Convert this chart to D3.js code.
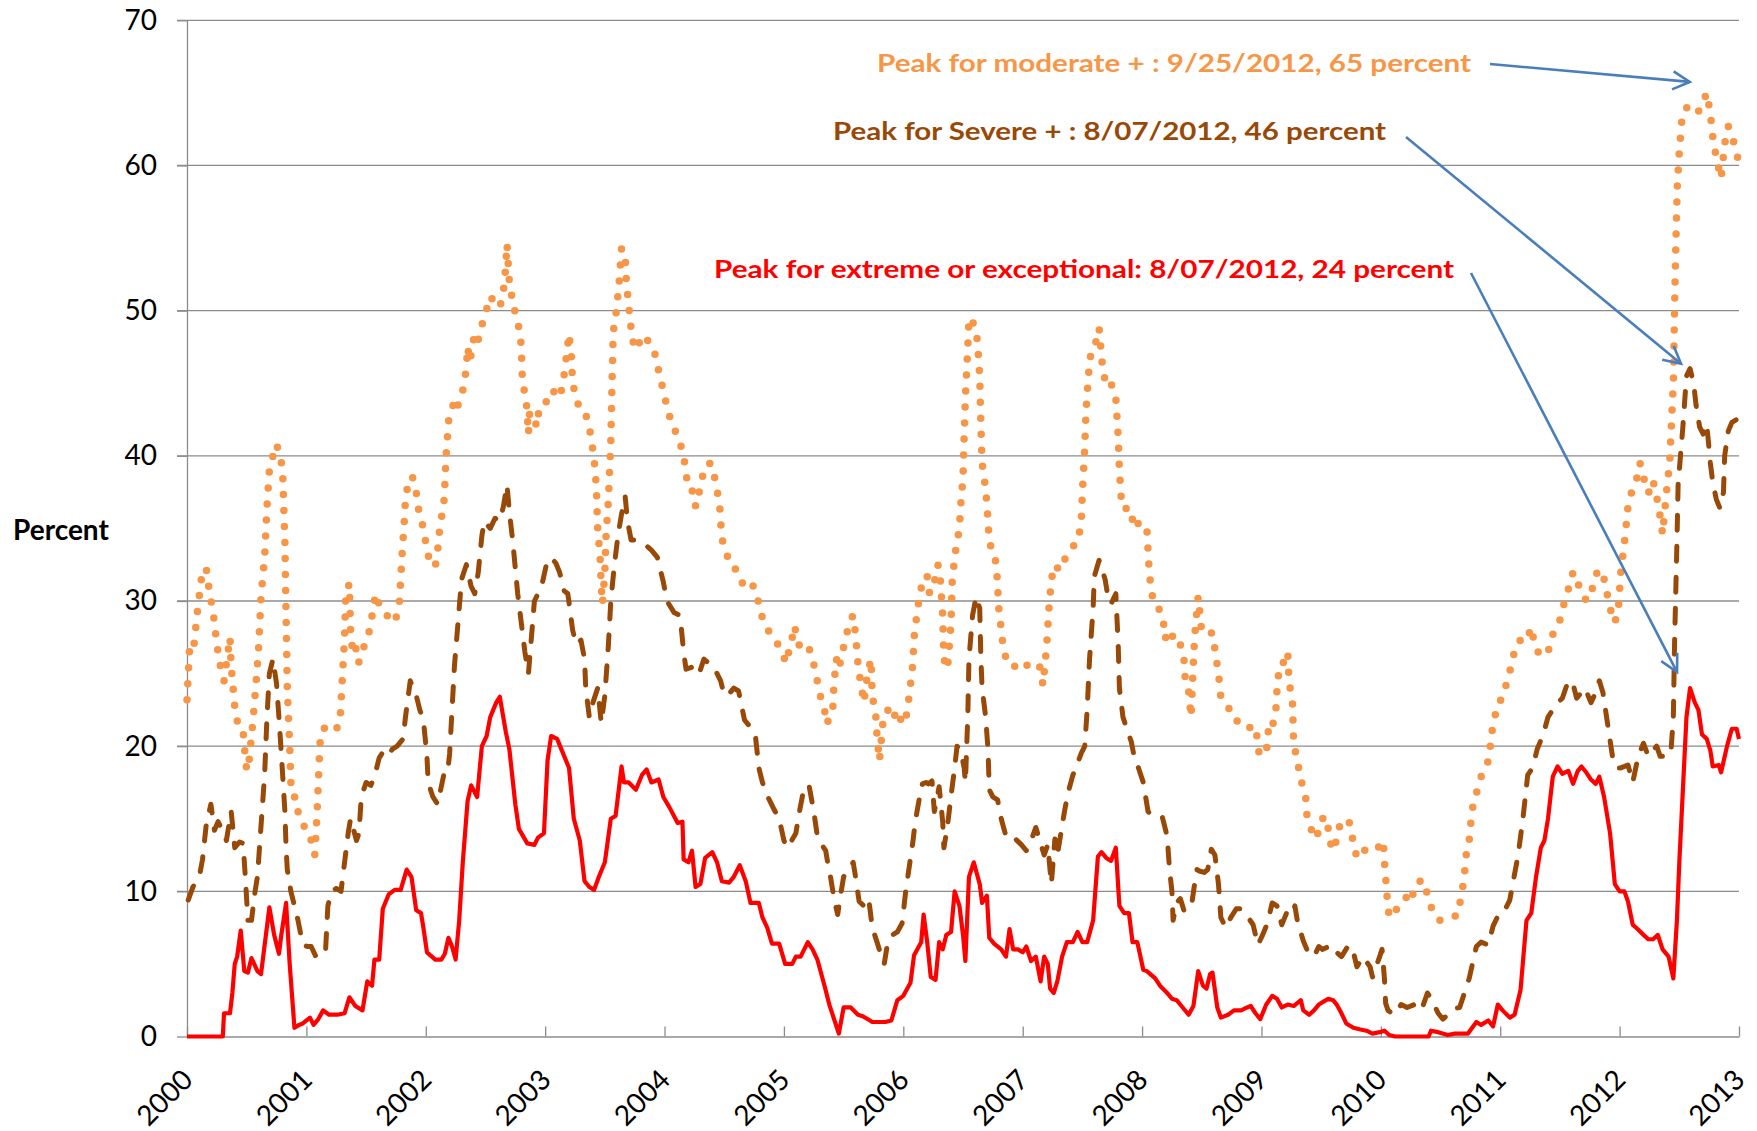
<!DOCTYPE html>
<html>

<head>
    <meta charset='utf-8' />
    <title>Drought area percent 2000-2012</title>
    <script src="https://cdn.jsdelivr.net/npm/d3@7"></script>
    <style>
        body {
            margin: 0;
            padding: 0;
            background: #fff;
        }

        #chart {
            display: block;
            font-family: Lato, 'Open Sans', sans-serif;
        }

        .grid-line {
            stroke: #8c8c8c;
            stroke-width: 1.3;
        }

        .axis path,
        .axis line {
            stroke: #8c8c8c;
            stroke-width: 1.3;
        }

        .axis text {
            fill: #000;
            font-family: Lato, 'Open Sans', sans-serif;
            font-size: 28px;
        }

        .moderate-style {
            fill: none;
            stroke: #f79646;
            stroke-width: 7.5;
            stroke-linecap: round;
            stroke-linejoin: round;
            stroke-dasharray: 0 16;
        }

        .severe-style {
            fill: none;
            stroke: #984807;
            stroke-width: 5;
            stroke-linecap: round;
            stroke-linejoin: round;
            stroke-dasharray: 15 16;
        }

        .extreme-style {
            fill: none;
            stroke: #ff0000;
            stroke-width: 4.2;
            stroke-linejoin: round;
        }

        .note {
            font-family: Lato, 'Open Sans', sans-serif;
            font-size: 25px;
            font-weight: bold;
        }

        .arrow {
            stroke: #4a7ebb;
            stroke-width: 2.6;
            fill: none;
        }
    </style>
</head>

<body>
    <svg id="chart" width="1757" height="1131"></svg>
    <script>
        // values: [year, percent of area]
        var yearTicks = [2000, 2001, 2002, 2003, 2004, 2005, 2006, 2007, 2008, 2009, 2010, 2011, 2012, 2013];
        var percentTicks = [0, 10, 20, 30, 40, 50, 60, 70];

        var moderate = [
            [2000.00, 23.2], [2000.02, 26.5], [2000.05, 26.3], [2000.09, 29.5], [2000.12, 31.5], [2000.16, 32.3],
            [2000.19, 30.5], [2000.22, 29.2], [2000.25, 27], [2000.29, 25], [2000.31, 24.5], [2000.36, 27.5],
            [2000.37, 25.5], [2000.40, 22.7], [2000.43, 21.3], [2000.47, 21], [2000.48, 20], [2000.50, 18.3],
            [2000.52, 19], [2000.55, 21.5], [2000.58, 24.5], [2000.60, 26.8], [2000.62, 30.3], [2000.65, 33],
            [2000.67, 36.5], [2000.69, 39], [2000.72, 40], [2000.75, 40.8], [2000.77, 40.2], [2000.80, 39.2],
            [2000.82, 34], [2000.83, 29], [2000.84, 24], [2000.86, 20], [2000.87, 17.5], [2000.89, 16.5],
            [2000.91, 16.5], [2000.94, 15], [2000.98, 14.5], [2001.03, 14], [2001.05, 13], [2001.07, 12.5],
            [2001.09, 15.5], [2001.11, 19.5], [2001.12, 21], [2001.16, 21.3], [2001.19, 21.2], [2001.23, 21],
            [2001.28, 21.5], [2001.30, 24.5], [2001.32, 27.5], [2001.33, 30.5], [2001.36, 31.2], [2001.37, 28],
            [2001.39, 26.3], [2001.42, 26.8], [2001.44, 25.8], [2001.48, 26.8], [2001.53, 28], [2001.55, 29],
            [2001.58, 30.5], [2001.62, 29.5], [2001.67, 29.1], [2001.71, 28.5], [2001.75, 28.8], [2001.78, 30],
            [2001.80, 33], [2001.82, 35.5], [2001.83, 37], [2001.86, 38.5], [2001.89, 38.5], [2001.92, 37.5],
            [2001.94, 36.3], [2001.98, 35], [2002.01, 33.5], [2002.04, 32.5], [2002.08, 32.4], [2002.10, 33.5],
            [2002.12, 35.3], [2002.15, 36.5], [2002.16, 38], [2002.17, 40], [2002.19, 42.3], [2002.20, 43],
            [2002.23, 43.5], [2002.26, 43], [2002.28, 44], [2002.31, 44.5], [2002.34, 46], [2002.35, 47.5],
            [2002.37, 46.5], [2002.40, 48], [2002.43, 47.5], [2002.45, 48.5], [2002.49, 49.5], [2002.54, 51],
            [2002.58, 50.5], [2002.62, 50.2], [2002.65, 51.3], [2002.67, 53], [2002.68, 54.6], [2002.70, 52],
            [2002.73, 50.5], [2002.76, 49.5], [2002.79, 48.5], [2002.80, 47.5], [2002.81, 45], [2002.84, 44],
            [2002.86, 41.5], [2002.87, 43], [2002.90, 42.8], [2002.93, 42], [2002.95, 43.3], [2003.00, 43.5],
            [2003.04, 44.5], [2003.08, 44.4], [2003.12, 44], [2003.15, 45], [2003.18, 47], [2003.20, 48.4],
            [2003.22, 46.8], [2003.23, 45], [2003.26, 44], [2003.29, 43.2], [2003.33, 43], [2003.36, 42.4],
            [2003.39, 41], [2003.42, 39], [2003.43, 37.5], [2003.44, 35], [2003.46, 33], [2003.47, 31],
            [2003.48, 29.8], [2003.50, 32], [2003.51, 34.5], [2003.53, 37], [2003.55, 41], [2003.56, 45],
            [2003.57, 48.5], [2003.60, 50.2], [2003.62, 52], [2003.64, 54.3], [2003.67, 53.8], [2003.68, 52],
            [2003.71, 49.5], [2003.73, 48], [2003.76, 47.3], [2003.80, 48], [2003.85, 48.3], [2003.87, 47.5],
            [2003.92, 47], [2003.96, 45.5], [2003.99, 44.5], [2004.02, 43.4], [2004.06, 42.2], [2004.12, 41.2],
            [2004.16, 40], [2004.18, 38.8], [2004.20, 37.7], [2004.25, 37.5], [2004.26, 36.5], [2004.29, 37.5],
            [2004.33, 39], [2004.37, 39.5], [2004.40, 39.4], [2004.43, 38], [2004.46, 36.8], [2004.47, 35.5],
            [2004.48, 34.3], [2004.53, 33], [2004.57, 32.8], [2004.62, 31.5], [2004.68, 31], [2004.72, 31.3],
            [2004.76, 30.8], [2004.79, 29.8], [2004.83, 28.5], [2004.89, 27.7], [2004.95, 27], [2004.99, 26.3],
            [2005.02, 25.7], [2005.04, 26.5], [2005.07, 27.5], [2005.09, 28.3], [2005.11, 27.2], [2005.14, 26.8],
            [2005.20, 27], [2005.24, 26], [2005.27, 24.9], [2005.30, 23.6], [2005.34, 22.5], [2005.36, 21.5],
            [2005.41, 22.7], [2005.42, 24.4], [2005.44, 26], [2005.46, 25.3], [2005.49, 26.5], [2005.52, 27.5],
            [2005.55, 28.6], [2005.58, 29], [2005.60, 27.7], [2005.62, 25.7], [2005.64, 24.5], [2005.67, 23],
            [2005.70, 25], [2005.73, 26], [2005.74, 23.5], [2005.77, 22], [2005.78, 20.7], [2005.80, 19],
            [2005.83, 21.7], [2005.87, 22.5], [2005.91, 21.8], [2005.95, 22.5], [2005.98, 21.8], [2006.01, 21.5],
            [2006.03, 22.3], [2006.05, 23.5], [2006.08, 25.7], [2006.09, 27.5], [2006.12, 29.5], [2006.14, 30.5],
            [2006.17, 31.7], [2006.20, 31.7], [2006.22, 30.5], [2006.26, 31.3], [2006.29, 32.5], [2006.31, 31.5],
            [2006.33, 29], [2006.34, 26], [2006.37, 25.3], [2006.40, 28.5], [2006.41, 31.5], [2006.44, 33.6],
            [2006.47, 35], [2006.48, 36.5], [2006.50, 38.5], [2006.51, 41.5], [2006.52, 44], [2006.54, 47.5],
            [2006.55, 49.5], [2006.58, 49.3], [2006.62, 48], [2006.64, 45.5], [2006.65, 42], [2006.66, 39.5],
            [2006.69, 37.7], [2006.71, 35.5], [2006.72, 34], [2006.75, 33.5], [2006.78, 32.5], [2006.80, 29.5],
            [2006.83, 27.3], [2006.86, 26], [2006.90, 26], [2006.94, 25.4], [2006.99, 25.2], [2007.04, 25.6],
            [2007.10, 25.4], [2007.14, 25.6], [2007.17, 24.2], [2007.20, 26.8], [2007.22, 29.5], [2007.24, 31.5],
            [2007.27, 32.5], [2007.31, 32.1], [2007.36, 33], [2007.41, 33.7], [2007.46, 34], [2007.49, 35.4],
            [2007.50, 37.5], [2007.52, 40.6], [2007.53, 43], [2007.55, 45.5], [2007.57, 47], [2007.60, 47.4],
            [2007.64, 48.8], [2007.67, 46], [2007.70, 44.8], [2007.74, 45], [2007.78, 44], [2007.80, 41.3],
            [2007.81, 39], [2007.83, 36.5], [2007.86, 36.5], [2007.91, 35.5], [2007.94, 36], [2007.98, 35],
            [2008.04, 35], [2008.06, 32], [2008.08, 30.5], [2008.12, 29.5], [2008.15, 29.4], [2008.18, 28.5],
            [2008.19, 27.4], [2008.25, 28], [2008.26, 27], [2008.32, 27], [2008.35, 26.1], [2008.36, 24.8],
            [2008.39, 23.8], [2008.40, 22.9], [2008.41, 22], [2008.43, 25.8], [2008.44, 27.5], [2008.46, 29.4],
            [2008.47, 30.3], [2008.50, 27.8], [2008.55, 27.8], [2008.59, 27.8], [2008.62, 26.1], [2008.64, 25],
            [2008.65, 24.2], [2008.66, 23.3], [2008.69, 23], [2008.72, 22.7], [2008.75, 22.3], [2008.77, 21.8],
            [2008.81, 21.7], [2008.87, 21.2], [2008.91, 21.3], [2008.95, 21.4], [2008.98, 19.5], [2009.01, 19.3],
            [2009.05, 20], [2009.06, 21.5], [2009.09, 21.3], [2009.12, 22.4], [2009.13, 23.9], [2009.15, 25.5],
            [2009.17, 25.5], [2009.22, 26.5], [2009.23, 24.6], [2009.24, 24], [2009.26, 22.9], [2009.27, 20.2],
            [2009.30, 19], [2009.33, 17.7], [2009.37, 16.5], [2009.38, 15.3], [2009.41, 14.4], [2009.45, 13.6],
            [2009.49, 14.3], [2009.52, 15.2], [2009.56, 14.3], [2009.59, 12.8], [2009.63, 13.5], [2009.66, 14.7],
            [2009.70, 15], [2009.74, 14.7], [2009.77, 13.3], [2009.80, 12.3], [2009.84, 12.8], [2009.91, 12.9],
            [2009.96, 12.8], [2010.02, 13.5], [2010.03, 12], [2010.04, 11], [2010.05, 9.8], [2010.07, 8.2],
            [2010.11, 8.5], [2010.15, 9], [2010.21, 9.6], [2010.25, 9.2], [2010.29, 10.5], [2010.35, 10.8],
            [2010.39, 9.8], [2010.43, 8.7], [2010.49, 8], [2010.55, 8.2], [2010.59, 8.3], [2010.64, 8.3],
            [2010.67, 9.5], [2010.70, 11], [2010.71, 12.3], [2010.74, 13.5], [2010.76, 15.3], [2010.78, 16.3],
            [2010.81, 17], [2010.84, 17.9], [2010.87, 18.3], [2010.90, 19], [2010.92, 20.2], [2010.94, 21.6],
            [2010.97, 22.5], [2010.98, 23], [2011.01, 23.2], [2011.06, 24.5], [2011.10, 25.8], [2011.13, 27],
            [2011.17, 27.3], [2011.22, 27.2], [2011.26, 28.2], [2011.29, 26.9], [2011.33, 26.3], [2011.37, 26.2],
            [2011.41, 26.7], [2011.45, 28], [2011.50, 28.7], [2011.54, 30], [2011.57, 30.8], [2011.61, 32],
            [2011.64, 31.6], [2011.66, 31], [2011.69, 30.6], [2011.72, 30], [2011.76, 30.5], [2011.80, 31.8],
            [2011.83, 32.2], [2011.87, 31.5], [2011.92, 29.5], [2011.96, 28.5], [2011.99, 29.5], [2012.01, 32],
            [2012.04, 34], [2012.07, 36.5], [2012.10, 37.5], [2012.14, 38.3], [2012.17, 39.5], [2012.20, 38.7],
            [2012.22, 37.5], [2012.25, 37.5], [2012.28, 38.3], [2012.31, 37.2], [2012.34, 35.8], [2012.36, 34.6],
            [2012.39, 37.3], [2012.42, 39.6], [2012.43, 41.5], [2012.45, 45], [2012.455, 47.5], [2012.46, 50],
            [2012.467, 53], [2012.475, 56], [2012.483, 58.5], [2012.50, 61], [2012.52, 63], [2012.56, 64],
            [2012.62, 63.5], [2012.67, 63.8], [2012.73, 65], [2012.76, 63.6], [2012.78, 62], [2012.81, 60.5],
            [2012.85, 59.1], [2012.88, 61.5], [2012.91, 62.7], [2012.95, 61.8], [2012.99, 60.5]
        ];

        var severe = [
            [2000.01, 9.4], [2000.05, 10.3], [2000.11, 11.3], [2000.13, 12.2], [2000.16, 14.5], [2000.20, 16],
            [2000.23, 14.2], [2000.26, 14.8], [2000.29, 14.3], [2000.33, 13.5], [2000.37, 15.5], [2000.40, 13],
            [2000.44, 13.4], [2000.47, 13.3], [2000.49, 10.8], [2000.51, 8], [2000.54, 8], [2000.57, 10],
            [2000.59, 11], [2000.62, 14.5], [2000.65, 18], [2000.67, 22], [2000.69, 25], [2000.72, 26],
            [2000.75, 24.3], [2000.77, 22], [2000.79, 19.5], [2000.82, 15.5], [2000.83, 13], [2000.84, 11.5],
            [2000.87, 10], [2000.90, 9], [2000.93, 8], [2000.97, 6.3], [2001.01, 6.2], [2001.04, 6.2],
            [2001.08, 5.5], [2001.11, 5.5], [2001.16, 5.8], [2001.18, 9], [2001.21, 10], [2001.25, 10.2],
            [2001.29, 10], [2001.32, 12], [2001.35, 14], [2001.37, 15], [2001.42, 13.5], [2001.44, 14],
            [2001.46, 16.5], [2001.50, 17.5], [2001.54, 17.3], [2001.57, 17.9], [2001.61, 19.2], [2001.65, 19.7],
            [2001.69, 19.4], [2001.72, 19.8], [2001.76, 20], [2001.81, 20.5], [2001.83, 22], [2001.87, 24.5],
            [2001.92, 23.5], [2001.95, 22.5], [2001.98, 21.8], [2002.01, 19.3], [2002.02, 17.5], [2002.06, 16.5],
            [2002.10, 16], [2002.15, 18], [2002.18, 18], [2002.20, 19.5], [2002.21, 21], [2002.24, 25.5],
            [2002.27, 28.5], [2002.30, 31.5], [2002.34, 32.5], [2002.38, 31], [2002.41, 30.5], [2002.44, 32],
            [2002.47, 34.5], [2002.49, 35.5], [2002.54, 35], [2002.58, 35.7], [2002.62, 35.5], [2002.65, 36.5],
            [2002.68, 38], [2002.70, 36.2], [2002.73, 34], [2002.77, 30.5], [2002.80, 28.5], [2002.83, 26.5],
            [2002.86, 25], [2002.88, 27], [2002.91, 30], [2002.94, 30.5], [2002.97, 31], [2003.01, 32.5],
            [2003.05, 33], [2003.09, 32.6], [2003.12, 32], [2003.16, 30.7], [2003.19, 30.5], [2003.23, 28],
            [2003.26, 27], [2003.30, 27.3], [2003.33, 26], [2003.34, 24], [2003.37, 22], [2003.40, 23],
            [2003.44, 24], [2003.47, 21.6], [2003.50, 23.5], [2003.53, 27], [2003.55, 30], [2003.58, 32.5],
            [2003.61, 34.5], [2003.64, 36], [2003.67, 37.2], [2003.69, 35.5], [2003.72, 34.2], [2003.76, 34.2],
            [2003.80, 34], [2003.85, 33.8], [2003.89, 33.5], [2003.94, 33], [2003.99, 31.3], [2004.02, 30],
            [2004.08, 29.2], [2004.13, 29], [2004.16, 26.5], [2004.18, 25.3], [2004.25, 25.5], [2004.29, 25],
            [2004.33, 26], [2004.37, 25.7], [2004.41, 25.5], [2004.47, 24.5], [2004.50, 23.5], [2004.54, 23.6],
            [2004.58, 24], [2004.62, 23.8], [2004.67, 21.8], [2004.72, 21.3], [2004.76, 20.8], [2004.79, 18.5],
            [2004.82, 17.5], [2004.86, 16.6], [2004.92, 15.6], [2004.96, 15], [2005.00, 13.5], [2005.03, 13],
            [2005.10, 14], [2005.13, 15.5], [2005.17, 17.2], [2005.21, 17.3], [2005.25, 15.5], [2005.28, 13.8],
            [2005.31, 13.3], [2005.35, 12.8], [2005.37, 11.8], [2005.39, 11], [2005.42, 9.5], [2005.45, 8.4],
            [2005.48, 10], [2005.50, 11], [2005.55, 11.5], [2005.58, 12], [2005.60, 11], [2005.63, 9.3],
            [2005.67, 9], [2005.71, 9.5], [2005.74, 7.5], [2005.78, 6.5], [2005.81, 5.7], [2005.84, 5],
            [2005.87, 6.5], [2005.91, 7], [2005.95, 7.2], [2005.99, 7.8], [2006.02, 10], [2006.05, 11.7],
            [2006.08, 13.4], [2006.10, 14.8], [2006.13, 16.2], [2006.16, 17.4], [2006.19, 17.5], [2006.21, 17.4],
            [2006.24, 17.6], [2006.26, 15.5], [2006.30, 17.2], [2006.33, 14.8], [2006.34, 13], [2006.37, 14.5],
            [2006.40, 16.6], [2006.43, 18.5], [2006.45, 20], [2006.48, 19.7], [2006.51, 18.5], [2006.52, 17.5],
            [2006.54, 22], [2006.55, 26], [2006.58, 29], [2006.61, 30.3], [2006.64, 29.5], [2006.65, 26],
            [2006.66, 24], [2006.69, 22], [2006.71, 19.7], [2006.72, 17], [2006.75, 16.5], [2006.79, 16.3],
            [2006.82, 15], [2006.86, 13.8], [2006.90, 13.5], [2006.94, 13.6], [2006.99, 13.2], [2007.03, 12.8],
            [2007.07, 13.5], [2007.11, 14.4], [2007.15, 13.3], [2007.18, 12.5], [2007.21, 13.2], [2007.24, 10.5],
            [2007.27, 13.6], [2007.29, 12.5], [2007.32, 14], [2007.35, 15.5], [2007.38, 16.8], [2007.42, 18],
            [2007.45, 18.6], [2007.49, 19.5], [2007.52, 20], [2007.54, 22.5], [2007.56, 26], [2007.59, 29.5],
            [2007.60, 31.7], [2007.64, 32.8], [2007.69, 31.5], [2007.71, 30.5], [2007.74, 29.8], [2007.78, 30.5],
            [2007.80, 27], [2007.81, 24], [2007.84, 22], [2007.88, 21], [2007.91, 20.3], [2007.94, 19],
            [2007.97, 18.5], [2008.01, 17.5], [2008.05, 15.5], [2008.10, 15.1], [2008.17, 15.1], [2008.21, 13.8],
            [2008.23, 11.5], [2008.25, 10], [2008.26, 8], [2008.29, 9.2], [2008.32, 9.5], [2008.35, 8.7],
            [2008.41, 8.8], [2008.44, 10.5], [2008.46, 11.5], [2008.48, 11.4], [2008.52, 11.3], [2008.55, 11.5],
            [2008.58, 12.9], [2008.61, 12.5], [2008.64, 10.5], [2008.66, 8.2], [2008.70, 7.5], [2008.75, 8.3],
            [2008.79, 8.8], [2008.83, 8.8], [2008.88, 8.3], [2008.93, 7.7], [2008.97, 6.3], [2009.01, 7],
            [2009.05, 7.8], [2009.09, 9.2], [2009.13, 9], [2009.17, 7.7], [2009.22, 8.7], [2009.26, 8.5],
            [2009.28, 9], [2009.30, 8], [2009.35, 6.6], [2009.38, 6], [2009.44, 5.5], [2009.48, 6.2],
            [2009.51, 6], [2009.59, 6.3], [2009.63, 5.8], [2009.67, 5.5], [2009.73, 6.3], [2009.77, 5.8],
            [2009.80, 4.8], [2009.85, 5.5], [2009.91, 4.8], [2009.93, 4.1], [2009.99, 5.5], [2010.01, 6],
            [2010.03, 4], [2010.04, 2.3], [2010.06, 1.8], [2010.11, 1.5], [2010.17, 2.2], [2010.22, 2],
            [2010.28, 2.2], [2010.34, 1.8], [2010.39, 3], [2010.43, 2.5], [2010.48, 1.6], [2010.52, 1.2],
            [2010.56, 1.5], [2010.60, 1.9], [2010.66, 2], [2010.70, 3], [2010.74, 4], [2010.80, 6.2],
            [2010.84, 6.5], [2010.90, 6.3], [2010.94, 7.6], [2010.98, 8.3], [2011.02, 8.4], [2011.08, 9.4],
            [2011.10, 10.3], [2011.15, 12.5], [2011.19, 15], [2011.23, 18], [2011.27, 18.5], [2011.31, 19.8],
            [2011.36, 20.8], [2011.40, 22], [2011.44, 22.5], [2011.48, 23], [2011.52, 23.3], [2011.57, 24.5],
            [2011.61, 24.3], [2011.64, 23.3], [2011.66, 23.5], [2011.71, 24], [2011.76, 23], [2011.80, 23.7],
            [2011.83, 24.5], [2011.86, 23.7], [2011.90, 21.5], [2011.94, 19.3], [2011.97, 18.5], [2012.01, 18.5],
            [2012.07, 18.7], [2012.11, 17.5], [2012.14, 18.7], [2012.17, 19.6], [2012.20, 20.2], [2012.24, 19.3],
            [2012.27, 19.6], [2012.31, 20], [2012.34, 19.3], [2012.38, 19.3], [2012.41, 19.3], [2012.43, 19.6],
            [2012.45, 22], [2012.46, 27], [2012.48, 34], [2012.49, 38], [2012.52, 41], [2012.53, 42],
            [2012.56, 45.5], [2012.59, 46], [2012.62, 45], [2012.64, 43.5], [2012.67, 42], [2012.70, 41.5],
            [2012.73, 42.2], [2012.76, 39.5], [2012.78, 38.2], [2012.81, 37], [2012.84, 36.4], [2012.87, 37.5],
            [2012.88, 40], [2012.91, 41.7], [2012.94, 42.3], [2012.98, 42.5], [2013.00, 42]
        ];

        var extreme = [
            [2000.00, 0], [2000.30, 0], [2000.31, 1.6], [2000.36, 1.6], [2000.38, 3], [2000.40, 5],
            [2000.42, 5.5], [2000.45, 7.3], [2000.48, 4.5], [2000.51, 4.4], [2000.54, 5.4], [2000.59, 4.5],
            [2000.62, 4.3], [2000.69, 8.9], [2000.73, 7], [2000.77, 5.7], [2000.79, 7], [2000.83, 9.2],
            [2000.86, 5], [2000.90, 0.6], [2000.94, 0.8], [2000.97, 0.9], [2001.03, 1.3], [2001.06, 0.8],
            [2001.10, 1.2], [2001.14, 1.8], [2001.19, 1.5], [2001.26, 1.5], [2001.32, 1.6], [2001.36, 2.7],
            [2001.41, 2.1], [2001.47, 1.8], [2001.51, 3.8], [2001.55, 3.5], [2001.57, 5.3], [2001.61, 5.3],
            [2001.64, 8.8], [2001.69, 9.8], [2001.74, 10.1], [2001.79, 10.1], [2001.84, 11.5], [2001.88, 11],
            [2001.92, 8.7], [2001.96, 8.5], [2001.98, 7.5], [2002.01, 5.8], [2002.08, 5.3], [2002.13, 5.3],
            [2002.16, 5.7], [2002.19, 6.8], [2002.22, 6.2], [2002.25, 5.3], [2002.28, 8], [2002.31, 12],
            [2002.35, 16.2], [2002.38, 17.3], [2002.43, 16.5], [2002.47, 20], [2002.51, 20.7], [2002.54, 22],
            [2002.59, 23], [2002.62, 23.4], [2002.67, 21], [2002.70, 19.8], [2002.75, 16], [2002.78, 14.3],
            [2002.85, 13.3], [2002.91, 13.2], [2002.94, 13.7], [2002.99, 14], [2003.02, 19], [2003.05, 20.7],
            [2003.10, 20.5], [2003.15, 19.5], [2003.20, 18.5], [2003.24, 15], [2003.29, 13.5], [2003.33, 10.7],
            [2003.37, 10.3], [2003.41, 10.1], [2003.45, 11], [2003.50, 12], [2003.55, 15], [2003.59, 15.2],
            [2003.64, 18.6], [2003.66, 17.5], [2003.70, 17.5], [2003.76, 17], [2003.81, 18], [2003.85, 18.4],
            [2003.89, 17.5], [2003.95, 17.7], [2003.99, 16.5], [2004.04, 15.8], [2004.11, 14.7], [2004.15, 14.8],
            [2004.16, 12.2], [2004.20, 12], [2004.23, 12.8], [2004.26, 10.3], [2004.30, 10.5], [2004.34, 12.3],
            [2004.40, 12.7], [2004.44, 12], [2004.48, 10.7], [2004.54, 10.6], [2004.58, 11], [2004.63, 11.8],
            [2004.68, 10.7], [2004.72, 9.2], [2004.79, 9.2], [2004.82, 8.2], [2004.86, 7.5], [2004.90, 6.4],
            [2004.96, 6.4], [2005.01, 5], [2005.07, 5], [2005.10, 5.5], [2005.14, 5.5], [2005.20, 6.5],
            [2005.24, 6], [2005.28, 5.3], [2005.34, 3.5], [2005.38, 2.2], [2005.42, 1.2], [2005.46, 0.2],
            [2005.50, 2], [2005.56, 2], [2005.62, 1.5], [2005.66, 1.4], [2005.70, 1.2], [2005.74, 1],
            [2005.80, 1], [2005.85, 1], [2005.90, 1.1], [2005.95, 2.5], [2006.00, 2.8], [2006.06, 3.7],
            [2006.09, 5.6], [2006.13, 6.2], [2006.15, 6.5], [2006.17, 8.4], [2006.20, 6.5], [2006.23, 4.1],
            [2006.27, 3.9], [2006.30, 6.5], [2006.33, 6], [2006.36, 7], [2006.40, 7.2], [2006.43, 10],
            [2006.47, 9], [2006.50, 7], [2006.52, 5.2], [2006.55, 11], [2006.59, 12], [2006.64, 10.5],
            [2006.66, 9.2], [2006.70, 9.7], [2006.72, 6.8], [2006.76, 6.4], [2006.82, 6], [2006.86, 5.5],
            [2006.89, 7.4], [2006.92, 6], [2006.96, 6], [2007.00, 5.8], [2007.03, 6.2], [2007.07, 5.2],
            [2007.11, 5.5], [2007.15, 3.8], [2007.18, 5.5], [2007.21, 5], [2007.23, 3.3], [2007.26, 3],
            [2007.29, 3.8], [2007.33, 5.5], [2007.37, 6.5], [2007.42, 6.5], [2007.46, 7.2], [2007.50, 6.5],
            [2007.54, 6.5], [2007.59, 8], [2007.63, 12.4], [2007.66, 12.7], [2007.70, 12.3], [2007.74, 12.1],
            [2007.78, 13], [2007.81, 9], [2007.85, 8.5], [2007.89, 8.5], [2007.92, 6.5], [2007.96, 6.5],
            [2008.01, 4.6], [2008.04, 4.5], [2008.11, 4], [2008.15, 3.5], [2008.21, 3], [2008.25, 2.6],
            [2008.29, 2.5], [2008.33, 2.1], [2008.39, 1.5], [2008.43, 2.1], [2008.47, 4.5], [2008.51, 3.5],
            [2008.54, 3.3], [2008.57, 4.3], [2008.59, 4.4], [2008.63, 2], [2008.66, 1.3], [2008.72, 1.5],
            [2008.77, 1.8], [2008.83, 1.8], [2008.88, 2], [2008.91, 2.1], [2008.95, 1.6], [2008.99, 1.2],
            [2009.04, 2.2], [2009.09, 2.8], [2009.13, 2.6], [2009.17, 2], [2009.22, 2.2], [2009.27, 2.1],
            [2009.33, 2.5], [2009.35, 1.8], [2009.40, 1.5], [2009.44, 1.8], [2009.48, 2.2], [2009.52, 2.4],
            [2009.56, 2.6], [2009.60, 2.5], [2009.63, 2.2], [2009.67, 1.6], [2009.71, 0.9], [2009.77, 0.6],
            [2009.82, 0.5], [2009.88, 0.4], [2009.93, 0.2], [2009.99, 0.3], [2010.03, 0.4], [2010.07, 0.1],
            [2010.12, 0], [2010.40, 0], [2010.42, 0.4], [2010.48, 0.3], [2010.56, 0.1], [2010.62, 0.2],
            [2010.73, 0.2], [2010.80, 1], [2010.84, 0.8], [2010.90, 1.1], [2010.94, 0.7], [2010.98, 2.2],
            [2011.02, 1.8], [2011.08, 1.3], [2011.12, 1.5], [2011.17, 3.2], [2011.22, 8], [2011.26, 8.5],
            [2011.30, 11], [2011.34, 13], [2011.37, 13.5], [2011.40, 15], [2011.44, 17.9], [2011.48, 18.6],
            [2011.52, 18.1], [2011.57, 18.3], [2011.61, 17.4], [2011.65, 18.3], [2011.68, 18.6], [2011.72, 18.2],
            [2011.76, 17.7], [2011.80, 17.4], [2011.83, 17.9], [2011.87, 16.5], [2011.92, 14], [2011.96, 10.5],
            [2012.00, 10], [2012.04, 10], [2012.07, 9.3], [2012.11, 7.7], [2012.15, 7.4], [2012.20, 7],
            [2012.24, 6.7], [2012.28, 6.7], [2012.32, 7], [2012.36, 6], [2012.41, 5.5], [2012.45, 4],
            [2012.48, 8], [2012.50, 12], [2012.53, 17], [2012.56, 22], [2012.59, 24], [2012.63, 23],
            [2012.66, 22.5], [2012.69, 20.8], [2012.73, 20.5], [2012.76, 19.7], [2012.78, 18.6], [2012.83, 18.7],
            [2012.85, 18.2], [2012.90, 20], [2012.94, 21.2], [2012.98, 21.2], [2013.00, 20.5]
        ];

        var peakNotes = [
            'Peak for moderate + : 9/25/2012, 65 percent',
            'Peak for Severe + : 8/07/2012, 46 percent',
            'Peak for extreme or exceptional: 8/07/2012, 24 percent'
        ];

        var svg = d3.select('#chart');
        var x, y;

        initScales();
        drawAxes();
        drawSeries();
        drawNotes();

        function initScales() {
            x = d3.scaleLinear().domain([2000, 2013]).range([187, 1739]);
            y = d3.scaleLinear().domain([0, 70]).range([1036.5, 20.3]);
        }

        function drawAxes() {
            // horizontal grid, starts a little left of the axis like the ticks
            svg.append('g')
                .selectAll('line')
                .data(percentTicks.filter(function (d) { return d > 0; }))
                .enter()
                .append('line')
                .attr('class', 'grid-line')
                .attr('x1', x(2000) - 10)
                .attr('x2', x(2013))
                .attr('y1', function (d) { return y(d); })
                .attr('y2', function (d) { return y(d); });

            svg.append('g')
                .attr('class', 'axis')
                .attr('transform', 'translate(' + x(2000) + ',0)')
                .call(d3.axisLeft(y).tickValues(percentTicks).tickSize(10).tickSizeOuter(0).tickPadding(20))
                .attr('font-family', null)
                .attr('font-size', null);

            var xAxis = svg.append('g')
                .attr('class', 'axis')
                .attr('transform', 'translate(0,' + y(0) + ')')
                .call(d3.axisBottom(x).tickValues(yearTicks).tickFormat(d3.format('d')).tickSize(-10).tickSizeOuter(0))
                .attr('font-family', null)
                .attr('font-size', null);

            xAxis.selectAll('.tick text')
                .attr('x', 0)
                .attr('y', 0)
                .attr('dy', 0)
                .attr('text-anchor', 'end')
                .attr('transform', 'translate(7,45) rotate(-45)');

            svg.append('text')
                .attr('x', 13)
                .attr('y', 540)
                .attr('font-size', 28)
                .attr('font-weight', 'bold')
                .text('Percent');
        }

        function drawSeries() {
            var line = d3.line()
                .x(function (d) { return x(d[0]); })
                .y(function (d) { return y(d[1]); });

            svg.append('path').datum(moderate).attr('class', 'moderate-style').attr('d', line);
            svg.append('path').datum(severe).attr('class', 'severe-style').attr('d', line);
            svg.append('path').datum(extreme).attr('class', 'extreme-style').attr('d', line);
        }

        function drawNotes() {
            svg.append('defs')
                .append('marker')
                .attr('id', 'open-arrow')
                .attr('markerUnits', 'userSpaceOnUse')
                .attr('viewBox', '-20 -12 24 24')
                .attr('markerWidth', 24)
                .attr('markerHeight', 24)
                .attr('refX', 0)
                .attr('refY', 0)
                .attr('orient', 'auto')
                .append('path')
                .attr('d', 'M-17,-9L0,0L-17,9')
                .attr('fill', 'none')
                .attr('stroke', '#4a7ebb')
                .attr('stroke-width', 2.6);

            var series = [moderate, severe, extreme];
            var colors = ['#f79646', '#984807', '#ff0000'];
            // text box and arrow tail positions, arrow tip offset from the peak
            var layout = [
                { tx: 877, ty: 72, len: 594, sx: 1490, sy: 64, dx: -17, dy: -11 },
                { tx: 833, ty: 140, len: 553, sx: 1406, sy: 137, dx: -9, dy: -5 },
                { tx: 714, ty: 278, len: 740, sx: 1471, sy: 273, dx: -13, dy: -16 }
            ];

            peakNotes.forEach(function (txt, i) {
                var L = layout[i];
                var peak = d3.greatest(series[i], function (d) { return d[1]; });

                svg.append('text')
                    .attr('class', 'note')
                    .attr('x', L.tx)
                    .attr('y', L.ty)
                    .attr('fill', colors[i])
                    .attr('textLength', L.len)
                    .attr('lengthAdjust', 'spacingAndGlyphs')
                    .text(txt);

                svg.append('line')
                    .attr('class', 'arrow')
                    .attr('x1', L.sx)
                    .attr('y1', L.sy)
                    .attr('x2', x(peak[0]) + L.dx)
                    .attr('y2', y(peak[1]) + L.dy)
                    .attr('marker-end', 'url(#open-arrow)');
            });
        }
    </script>

</body>

</html>
